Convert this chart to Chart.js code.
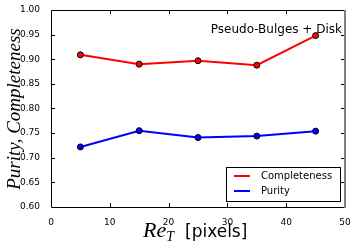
<!DOCTYPE html>
<html>
<head>
<meta charset="utf-8">
<script src="https://cdn.jsdelivr.net/npm/chart.js@4"></script>
<style>
  html, body { margin: 0; padding: 0; background: #fff; }
  #wrap { width: 357px; height: 248px; }
</style>
</head>
<body>
<div id="wrap"><canvas id="chart" width="357" height="248"></canvas></div>
<script>
// data
const radii = [5, 15, 25, 35, 45];
const completeness = [0.909, 0.890, 0.897, 0.888, 0.948];
const purity = [0.722, 0.755, 0.741, 0.744, 0.754];
const seriesNames = ["Completeness", "Purity"];
const seriesColors = ["#ff0000", "#0000ff"];
const panelTitle = "Pseudo-Bulges + Disk";

Chart.defaults.font.family = "'DejaVu Sans', sans-serif";
Chart.defaults.color = "#000";

const toPoints = ys => radii.map((x, i) => ({ x: x, y: ys[i] }));

// frame, inward ticks, labels, legend
const decorations = {
  id: "decorations",
  afterDraw(chart) {
    const ctx = chart.ctx;
    const a = chart.chartArea;
    const xs = chart.scales.x, ys = chart.scales.y;
    ctx.save();

    // ticks pointing inward
    ctx.strokeStyle = "#000";
    ctx.lineWidth = 1;
    ctx.beginPath();
    [10, 20, 30, 40].forEach(v => {
      const px = Math.round(xs.getPixelForValue(v)) + 0.5;
      ctx.moveTo(px, a.bottom); ctx.lineTo(px, a.bottom - 4);
      ctx.moveTo(px, a.top); ctx.lineTo(px, a.top + 4);
    });
    [0.65, 0.7, 0.75, 0.8, 0.85, 0.9, 0.95].forEach(v => {
      const py = Math.round(ys.getPixelForValue(v)) + 0.5;
      ctx.moveTo(a.left, py); ctx.lineTo(a.left + 4, py);
      ctx.moveTo(a.right, py); ctx.lineTo(a.right - 4, py);
    });
    ctx.stroke();

    // frame
    ctx.beginPath();
    ctx.moveTo(a.right, a.top + 0.5);
    ctx.lineTo(a.left + 0.5, a.top + 0.5);
    ctx.lineTo(a.left + 0.5, a.bottom + 0.5);
    ctx.lineTo(a.right, a.bottom + 0.5);
    ctx.stroke();
    ctx.strokeStyle = "#808080";
    ctx.lineWidth = 2;
    ctx.beginPath();
    ctx.moveTo(a.right, a.top);
    ctx.lineTo(a.right, a.bottom + 1);
    ctx.stroke();

    // panel title
    ctx.fillStyle = "#000";
    ctx.font = "12px 'DejaVu Sans'";
    ctx.textAlign = "right";
    ctx.textBaseline = "middle";
    ctx.fillText(panelTitle, a.right - 3, 30);

    // legend
    const lx = 226, ly = 167, lw = 114, lh = 34;
    ctx.fillStyle = "#fff";
    ctx.fillRect(lx, ly, lw, lh);
    ctx.strokeStyle = "#000";
    ctx.lineWidth = 1;
    ctx.strokeRect(lx + 0.5, ly + 0.5, lw, lh);
    ctx.font = "10px 'DejaVu Sans'";
    ctx.textAlign = "left";
    seriesNames.forEach((name, i) => {
      const yy = 176 + i * 15;
      ctx.strokeStyle = seriesColors[i];
      ctx.lineWidth = 2;
      ctx.beginPath();
      ctx.moveTo(234, yy); ctx.lineTo(250, yy);
      ctx.stroke();
      ctx.fillStyle = "#000";
      ctx.fillText(name, 261, yy);
    });

    // y axis label
    ctx.save();
    ctx.translate(20, 109);
    ctx.rotate(-Math.PI / 2);
    ctx.font = "italic 19px 'Liberation Serif'";
    ctx.textAlign = "center";
    ctx.textBaseline = "alphabetic";
    ctx.fillText("Purity, Completeness", 0, 0);
    ctx.restore();

    // x axis label: Re_T [pixels]
    const fMain = "italic 22px 'Liberation Serif'";
    const fSub = "italic 14px 'Liberation Serif'";
    const fTxt = "17px 'DejaVu Sans'";
    ctx.font = fMain; const w1 = ctx.measureText("Re").width;
    let x0 = 143;
    const base = 237;
    ctx.textBaseline = "alphabetic";
    ctx.font = fMain; ctx.fillText("Re", x0, base); x0 += w1;
    ctx.font = fSub; ctx.fillText("T", x0, base + 4);
    ctx.font = fTxt; ctx.fillText("[pixels]", 185, base);

    ctx.restore();
  }
};

new Chart(document.getElementById("chart"), {
  type: "line",
  data: {
    datasets: [
      {
        label: seriesNames[0],
        data: toPoints(completeness),
        borderColor: seriesColors[0],
        backgroundColor: seriesColors[0],
        borderWidth: 2,
        pointRadius: 3,
        pointBorderColor: "#000",
        pointBorderWidth: 1,
        pointBackgroundColor: seriesColors[0],
        tension: 0
      },
      {
        label: seriesNames[1],
        data: toPoints(purity),
        borderColor: seriesColors[1],
        backgroundColor: seriesColors[1],
        borderWidth: 2,
        pointRadius: 3,
        pointBorderColor: "#000",
        pointBorderWidth: 1,
        pointBackgroundColor: seriesColors[1],
        tension: 0
      }
    ]
  },
  options: {
    responsive: false,
    animation: false,
    layout: { padding: { left: 0, top: 10, right: 12, bottom: 0 } },
    plugins: {
      legend: { display: false },
      tooltip: { enabled: false }
    },
    scales: {
      x: {
        type: "linear",
        min: 0,
        max: 50,
        ticks: { stepSize: 10, padding: 2, font: { size: 9 }, maxRotation: 0 },
        grid: { display: false },
        border: { display: false },
        afterFit: s => { s.height = 41; }
      },
      y: {
        min: 0.6,
        max: 1.0,
        ticks: {
          stepSize: 0.05,
          padding: 3,
          font: { size: 9 },
          callback: v => Number(v).toFixed(2)
        },
        grid: { display: false },
        border: { display: false },
        afterFit: s => { s.width = 51; }
      }
    }
  },
  plugins: [decorations]
});
</script>
</body>
</html>
